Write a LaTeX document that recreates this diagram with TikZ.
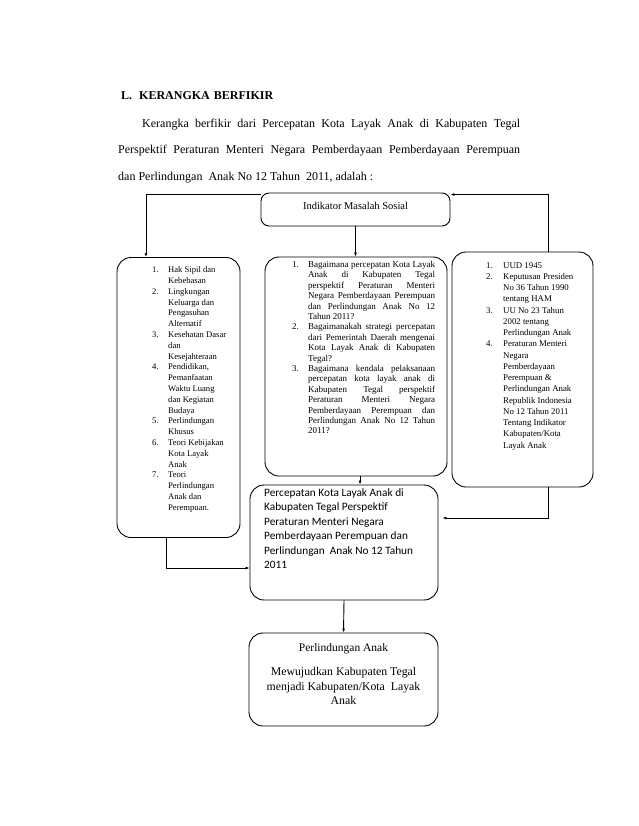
\documentclass[tikz,border=0pt]{standalone}
\usepackage{fontspec}
\setmainfont{Liberation Serif}
\newfontfamily\calfont{Carlito}
\usetikzlibrary{arrows.meta}
\newcommand\jst[1]{\makebox[127pt][s]{#1}}
\begin{document}
\begin{tikzpicture}[x=1pt,y=-1pt,
  box/.style={draw, line width=0.9pt, rounded corners=14pt, inner sep=0pt},
  arr/.style={line width=0.9pt, -{Latex[length=4pt,width=3pt]}},
  txt/.style={inner sep=0pt, font=\fontsize{12}{15}\selectfont},
  lst/.style 2 args={inner sep=0pt, anchor=north west, font=\fontsize{#1}{#2}\selectfont}]
\useasboundingbox (0,0) rectangle (638,826);
\fill[white] (0,0) rectangle (638,826);

% heading and paragraph
\node[txt, anchor=base west, font=\bfseries\fontsize{12}{15}\selectfont] (hd) at (121,100) {L.\hspace{7pt}KERANGKA\hspace{4pt}BERFIKIR};
\node[txt, anchor=base west] (p1) at (142,128) {\makebox[378pt][s]{Kerangka berfikir dari Percepatan Kota Layak Anak di Kabupaten Tegal}};
\node[txt, anchor=base west] (p2) at (118,154) {\makebox[402pt][s]{Perspektif Peraturan Menteri Negara Pemberdayaan Pemberdayaan Perempuan}};
\node[txt, anchor=base west] (p3) at (118,181) {dan Perlindungan\ \ Anak No 12 Tahun\ \ 2011, adalah :};

% boxes
\node[box, rounded corners=8pt, minimum width=189pt, minimum height=33pt] (top) at (355.5,209.5) {};
\node[box, minimum width=123pt, minimum height=280pt] (left) at (178.5,397.5) {};
\node[box, minimum width=182pt, minimum height=219pt] (mid) at (356,366.5) {};
\node[box, minimum width=141pt, minimum height=235pt] (right) at (522.5,369.5) {};
\node[box, minimum width=188pt, minimum height=115pt] (perc) at (344,542.5) {};
\node[box, minimum width=189pt, minimum height=93pt] (perl) at (343.5,679.5) {};

% texts
\node[inner sep=0pt, font=\fontsize{10.5}{12}\selectfont] (toptext) at (355.5,206) {Indikator Masalah Sosial};

\node[lst={8.6}{10.8}] (lefttext) at (152,265) {\begin{tabular}{@{}p{16pt}@{}l@{}}
1. & Hak Sipil dan\\
 & Kebebasan\\
2. & Lingkungan\\
 & Keluarga dan\\
 & Pengasuhan\\
 & Alternatif\\
3. & Kesehatan Dasar\\
 & dan\\
 & Kesejahteraan\\
4. & Pendidikan,\\
 & Pemanfaatan\\
 & Waktu Luang\\
 & dan Kegiatan\\
 & Budaya\\
5. & Perlindungan\\
 & Khusus\\
6. & Teori Kebijakan\\
 & Kota Layak\\
 & Anak\\
7. & Teori\\
 & Perlindungan\\
 & Anak dan\\
 & Perempuan.
\end{tabular}};

\node[lst={9}{10.4}] (midtext) at (292,260) {\begin{tabular}{@{}p{16pt}@{}l@{}}
1. & \jst{Bagaimana percepatan Kota Layak}\\
 & \jst{Anak di Kabupaten Tegal}\\
 & \jst{perspektif Peraturan Menteri}\\
 & \jst{Negara Pemberdayaan Perempuan}\\
 & \jst{dan Perlindungan Anak No 12}\\
 & Tahun 2011?\\
2. & \jst{Bagaimanakah strategi percepatan}\\
 & \jst{dari Pemerintah Daerah mengenai}\\
 & \jst{Kota Layak Anak di Kabupaten}\\
 & Tegal?\\
3. & \jst{Bagaimana kendala pelaksanaan}\\
 & \jst{percepatan kota layak anak di}\\
 & \jst{Kabupaten Tegal perspektif}\\
 & \jst{Peraturan Menteri Negara}\\
 & \jst{Pemberdayaan Perempuan dan}\\
 & \jst{Perlindungan Anak No 12 Tahun}\\
 & 2011?
\end{tabular}};

\node[lst={8.8}{11.25}] (righttext) at (486,260) {\begin{tabular}{@{}p{17pt}@{}l@{}}
1. & UUD 1945\\
2. & Keputusan Presiden\\
 & No 36 Tahun 1990\\
 & tentang HAM\\
3. & UU No 23 Tahun\\
 & 2002 tentang\\
 & Perlindungan Anak\\
4. & Peraturan Menteri\\
 & Negara\\
 & Pemberdayaan\\
 & Perempuan \&\\
 & Perlindungan Anak\\
 & Republik Indonesia\\
 & No 12 Tahun 2011\\
 & Tentang Indikator\\
 & Kabupaten/Kota\\
 & Layak Anak
\end{tabular}};

\node[inner sep=0pt, anchor=north west, align=left, font=\calfont\fontsize{11.3}{14.4}\selectfont] (perctext) at (264,488.5) {Percepatan Kota Layak Anak di\\
Kabupaten Tegal Perspektif\\
Peraturan Menteri Negara\\
Pemberdayaan Perempuan dan\\
Perlindungan\ \ Anak No 12 Tahun\\
2011};

\node[inner sep=0pt, font=\fontsize{11.5}{14}\selectfont] (perlhead) at (343.5,649) {Perlindungan Anak};
\node[inner sep=0pt, align=center, font=\fontsize{11.8}{14.5}\selectfont] (perltext) at (343.5,686) {Mewujudkan Kabupaten Tegal\\
menjadi Kabupaten/Kota\ \ Layak\\
Anak};

% connectors
\draw[arr] ([yshift=-2pt]top.north west) -| ([xshift=-32.5pt]left.north);
\draw[arr] (top.south) -- (top.south |- mid.north);
\draw[arr] ([xshift=25.5pt]right.north) |- ([yshift=-2pt]top.north east);
\draw[arr] ([xshift=-12.5pt]left.south) |- ([yshift=-25.5pt]perc.west);
\draw[arr] ([xshift=4pt]mid.south) -- ([xshift=4pt]mid.south |- perc.north);
\draw[arr, shorten >=4pt] ([xshift=25.5pt]right.south) |- ([yshift=24.5pt]perc.east);
\draw[arr] (perc.south) -- (perl.north);
\end{tikzpicture}
\end{document}
